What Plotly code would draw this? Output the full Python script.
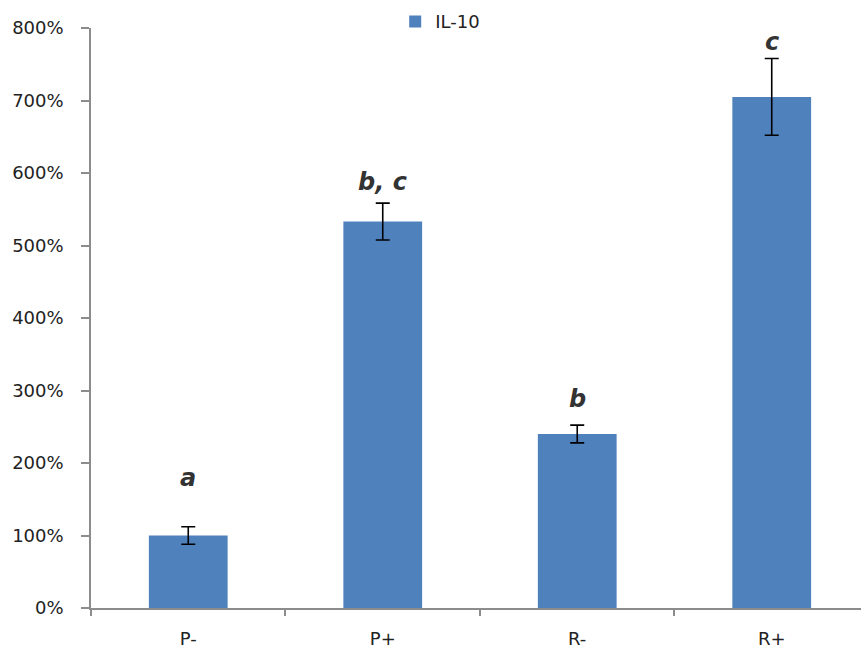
import plotly.graph_objects as go

# Relative IL-10 expression per group (1.0 = 100%)
groups = ["P-", "P+", "R-", "R+"]
il10 = [1.00, 5.33, 2.40, 7.05]
il10_err = [0.12, 0.255, 0.123, 0.53]
sig_letters = ["a", "b, c", "b", "c"]
letter_y = [1.80, 5.87, 2.88, 7.81]

y_ticks = [0, 1, 2, 3, 4, 5, 6, 7, 8]

BAR = "#4F81BD"
AXIS = "#8C8C8C"
TEXT = "#222222"
FONT = "DejaVu Sans"

fig = go.Figure()
fig.add_trace(go.Bar(
    x=groups,
    y=il10,
    name="IL-10",
    marker=dict(color=BAR, line=dict(width=0)),
    width=0.405,
    error_y=dict(type="data", array=il10_err, visible=True,
                 color="black", thickness=1.6, width=7),
))

for g, letter, ly in zip(groups, sig_letters, letter_y):
    fig.add_annotation(
        x=g, y=ly, text=f"<b><i>{letter}</i></b>", showarrow=False,
        font=dict(family=FONT, size=24, color="#333333"),
        xanchor="center", yanchor="middle",
    )

fig.update_layout(
    width=861, height=650,
    margin=dict(l=91, r=0, t=28, b=41.5, autoexpand=False),
    paper_bgcolor="white", plot_bgcolor="white",
    font=dict(family=FONT, size=18, color=TEXT),
    showlegend=True,
    legend=dict(orientation="h", x=0.459, y=0.995, xanchor="left",
                yanchor="top", xref="container", yref="container",
                font=dict(family=FONT, size=18, color=TEXT),
                bgcolor="rgba(0,0,0,0)", itemwidth=30),
    xaxis=dict(
        range=[-0.5, 3.459], showline=True, linecolor=AXIS, linewidth=1.5,
        ticks="outside", tickson="boundaries", ticklen=6, tickcolor=AXIS,
        tickwidth=1.5, showgrid=False, zeroline=False, ticklabelstandoff=14,
        tickfont=dict(family=FONT, size=18, color=TEXT),
    ),
    yaxis=dict(
        range=[0, 8], tickvals=y_ticks,
        ticktext=[f"{int(v * 100)}%" for v in y_ticks],
        showline=True, linecolor=AXIS, linewidth=1.5,
        ticks="outside", ticklen=8, tickcolor=AXIS, tickwidth=1.5,
        showgrid=False, zeroline=False, ticklabelstandoff=14,
        tickfont=dict(family=FONT, size=18, color=TEXT),
    ),
)

fig.write_html("out.html")
